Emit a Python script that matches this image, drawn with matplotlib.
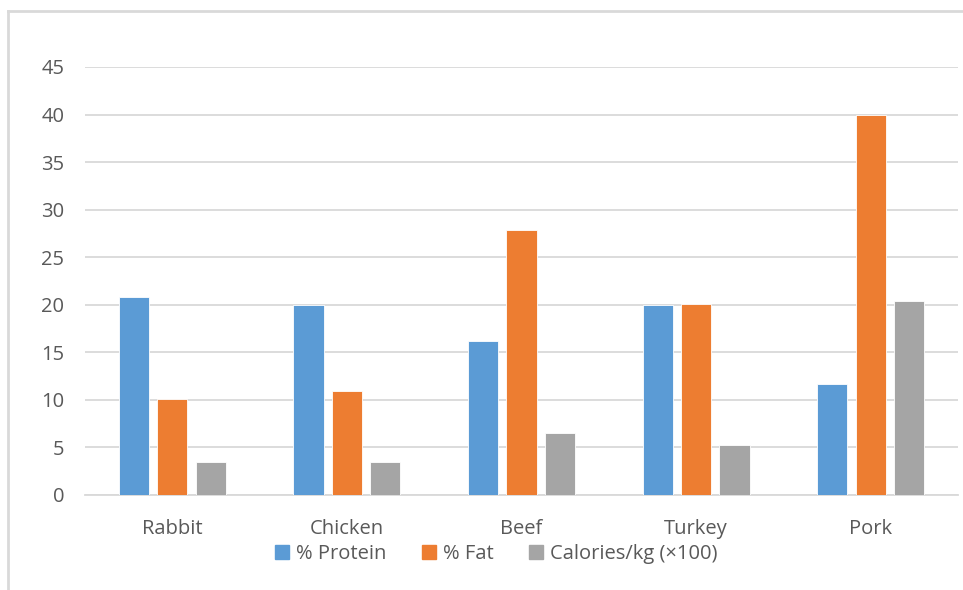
import numpy as np
import matplotlib.pyplot as plt
from matplotlib.lines import Line2D

plt.rcParams['font.family'] = ['Open Sans', 'DejaVu Sans']

# meat types and their nutrition values
meats = ["Rabbit", "Chicken", "Beef", "Turkey", "Pork"]
protein = [20.8, 20.0, 16.2, 20.0, 11.7]
fat = [10.1, 10.9, 27.9, 20.1, 40.0]
calories = [3.5, 3.5, 6.5, 5.3, 20.4]

series_names = ["% Protein", "% Fat", "Calories/kg (\u00d7100)"]
colors = ["#5B9BD5", "#ED7D31", "#A5A5A5"]
text_color = "#595959"
grid_color = "#D9D9D9"

fig = plt.figure(figsize=(9.63, 5.9), dpi=100)
ax = fig.add_axes([85 / 963, 95 / 590, 873 / 963, 428 / 590])

x = np.arange(len(meats))
width = 0.172
step = 0.22
for i, (vals, name, col) in enumerate(zip([protein, fat, calories], series_names, colors)):
    ax.bar(x + (i - 1) * step, vals, width, color=col, label=name,
           edgecolor="white", linewidth=0.6, zorder=3)

ax.set_xlim(-0.5, len(meats) - 0.5)
ax.set_ylim(0, 45)
ax.set_yticks(range(0, 50, 5))
ax.set_xticks(x)
ax.set_xticklabels(meats)
ax.yaxis.grid(True, color=grid_color, linewidth=1.3, zorder=0)
ax.tick_params(axis="both", length=0, labelsize=14.5, colors=text_color)
ax.tick_params(axis="y", pad=15)
ax.tick_params(axis="x", pad=17)
for side in ["top", "right", "left"]:
    ax.spines[side].set_visible(False)
ax.spines["bottom"].set_color(grid_color)
ax.spines["bottom"].set_linewidth(1.3)

# legend under the categories
handles = [Line2D([], [], marker="s", linestyle="none", markersize=9.5,
                  markerfacecolor=c, markeredgecolor=c) for c in colors]
fig.legend(handles, series_names, loc="center", ncol=3, frameon=False,
           bbox_to_anchor=(496 / 963, 1 - 554 / 590), fontsize=14.5,
           labelcolor=text_color, handlelength=0.8, handletextpad=0.3,
           columnspacing=1.7)

# light chart border along the top and left
fig.add_artist(Line2D([8 / 963, 8 / 963], [0, 1 - 11 / 590],
                      transform=fig.transFigure, color=grid_color, linewidth=2))
fig.add_artist(Line2D([8 / 963, 1], [1 - 11 / 590, 1 - 11 / 590],
                      transform=fig.transFigure, color=grid_color, linewidth=2))

fig.savefig("out.png", dpi=100)
